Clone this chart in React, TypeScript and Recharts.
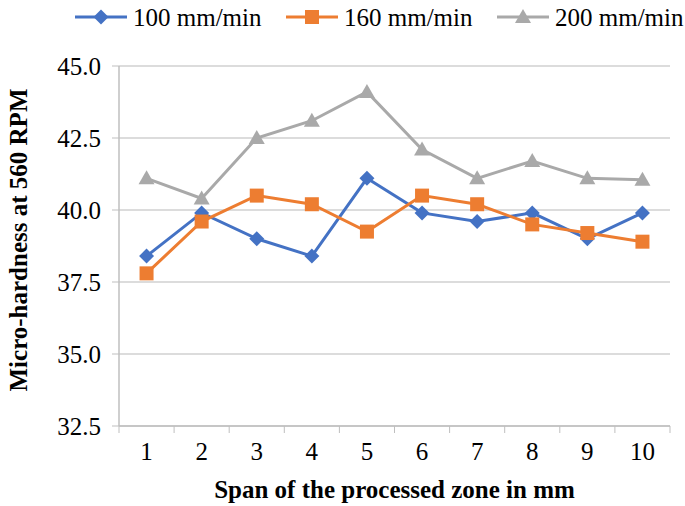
import React from 'react';
import { LineChart, Line, XAxis, YAxis, CartesianGrid, Legend } from 'recharts';

const spans = [1, 2, 3, 4, 5, 6, 7, 8, 9, 10];
const feed100 = [38.4, 39.9, 39.0, 38.4, 41.1, 39.9, 39.6, 39.9, 39.0, 39.9];
const feed160 = [37.8, 39.6, 40.5, 40.2, 39.25, 40.5, 40.2, 39.5, 39.2, 38.9];
const feed200 = [41.1, 40.4, 42.5, 43.1, 44.1, 42.1, 41.1, 41.7, 41.1, 41.05];
const yTicks = [32.5, 35, 37.5, 40, 42.5, 45];
const xTicks = [0.5, 1, 1.5, 2, 2.5, 3, 3.5, 4, 4.5, 5, 5.5, 6, 6.5, 7, 7.5, 8, 8.5, 9, 9.5, 10, 10.5];

const FONT = '"Liberation Serif", "Times New Roman", serif';
const AXIS = '#bfbfbf';

const series = [
  { key: 'f100', name: '100 mm/min', color: '#4472C4', shape: 'diamond' },
  { key: 'f160', name: '160 mm/min', color: '#ED7D31', shape: 'square' },
  { key: 'f200', name: '200 mm/min', color: '#A9A9A9', shape: 'triangle' },
];

const data = spans.map((x, i) => ({ x, f100: feed100[i], f160: feed160[i], f200: feed200[i] }));

const Marker = ({ cx, cy, shape, color }: any) => {
  if (cx == null || cy == null) return null;
  if (shape === 'diamond') {
    return <path d={`M${cx},${cy - 7.5}L${cx + 7.5},${cy}L${cx},${cy + 7.5}L${cx - 7.5},${cy}Z`} fill={color} />;
  }
  if (shape === 'square') {
    return <rect x={cx - 7} y={cy - 7} width={14} height={14} fill={color} />;
  }
  return <path d={`M${cx},${cy - 8}L${cx + 8},${cy + 6}L${cx - 8},${cy + 6}Z`} fill={color} />;
};

const XTick = ({ x, y, payload }: any) => {
  const v = payload.value;
  if (Number.isInteger(v)) {
    return (
      <text x={x} y={y + 34} textAnchor="middle" fontFamily={FONT} fontSize={25} fill="#000">
        {v}
      </text>
    );
  }
  return <line x1={x} y1={y} x2={x} y2={y + 7} stroke={AXIS} strokeWidth={1} />;
};

const YTick = ({ x, y, payload }: any) => (
  <text x={x} y={y} dy={9} textAnchor="end" fontFamily={FONT} fontSize={25} fill="#000">
    {Number(payload.value).toFixed(1)}
  </text>
);

const LegendContent = () => (
  <svg width={640} height={30}>
    {series.map((s, i) => (
      <g key={s.key} transform={`translate(${i * 211}, 0)`}>
        <line x1={0} y1={15} x2={52} y2={15} stroke={s.color} strokeWidth={3} />
        <Marker cx={26} cy={15} shape={s.shape} color={s.color} />
        <text x={58} y={24} fontFamily={FONT} fontSize={25} fill="#000">
          {s.name}
        </text>
      </g>
    ))}
  </svg>
);

const YTitle = ({ viewBox }: any) => {
  const cy = viewBox.y + viewBox.height / 2 - 6;
  return (
    <text
      x={18}
      y={cy}
      transform={`rotate(-90, 18, ${cy})`}
      textAnchor="middle"
      dominantBaseline="central"
      fontFamily={FONT}
      fontSize={25}
      fontWeight="bold"
      fill="#000"
    >
      Micro-hardness at 560 RPM
    </text>
  );
};

const XTitle = ({ viewBox }: any) => (
  <text
    x={viewBox.x + viewBox.width / 2}
    y={498}
    textAnchor="middle"
    fontFamily={FONT}
    fontSize={25}
    fontWeight="bold"
    fill="#000"
  >
    Span of the processed zone in mm
  </text>
);

export default function App() {
  return (
    <div style={{ position: 'absolute', left: 0, top: 0, width: 685, height: 506, background: '#fff' }}>
      <LineChart width={685} height={506} data={data} margin={{ top: 66, right: 15, left: 0, bottom: 0 }}>
        <CartesianGrid vertical={false} stroke="#d0d0d0" strokeWidth={1.5} />
        <XAxis
          dataKey="x"
          type="number"
          domain={[0.5, 10.5]}
          ticks={xTicks}
          interval={0}
          tick={<XTick />}
          tickLine={false}
          tickSize={0}
          tickMargin={0}
          axisLine={{ stroke: AXIS, strokeWidth: 1.5 }}
          height={80}
          label={<XTitle />}
        />
        <YAxis
          domain={[32.5, 45]}
          ticks={yTicks}
          interval={0}
          width={119}
          tick={<YTick />}
          tickLine={{ stroke: AXIS }}
          tickSize={7}
          tickMargin={11}
          axisLine={{ stroke: AXIS, strokeWidth: 1.5 }}
          label={<YTitle />}
        />
        <Legend
          layout="horizontal"
          verticalAlign="middle"
          align="center"
          wrapperStyle={{ top: 2, left: 75, width: 640 }}
          content={<LegendContent />}
        />
        {series.map((s) => (
          <Line
            key={s.key}
            dataKey={s.key}
            name={s.name}
            stroke={s.color}
            strokeWidth={3}
            isAnimationActive={false}
            dot={(p: any) => <Marker key={`${s.key}-${p.index}`} cx={p.cx} cy={p.cy} shape={s.shape} color={s.color} />}
            activeDot={false}
          />
        ))}
      </LineChart>
    </div>
  );
}
